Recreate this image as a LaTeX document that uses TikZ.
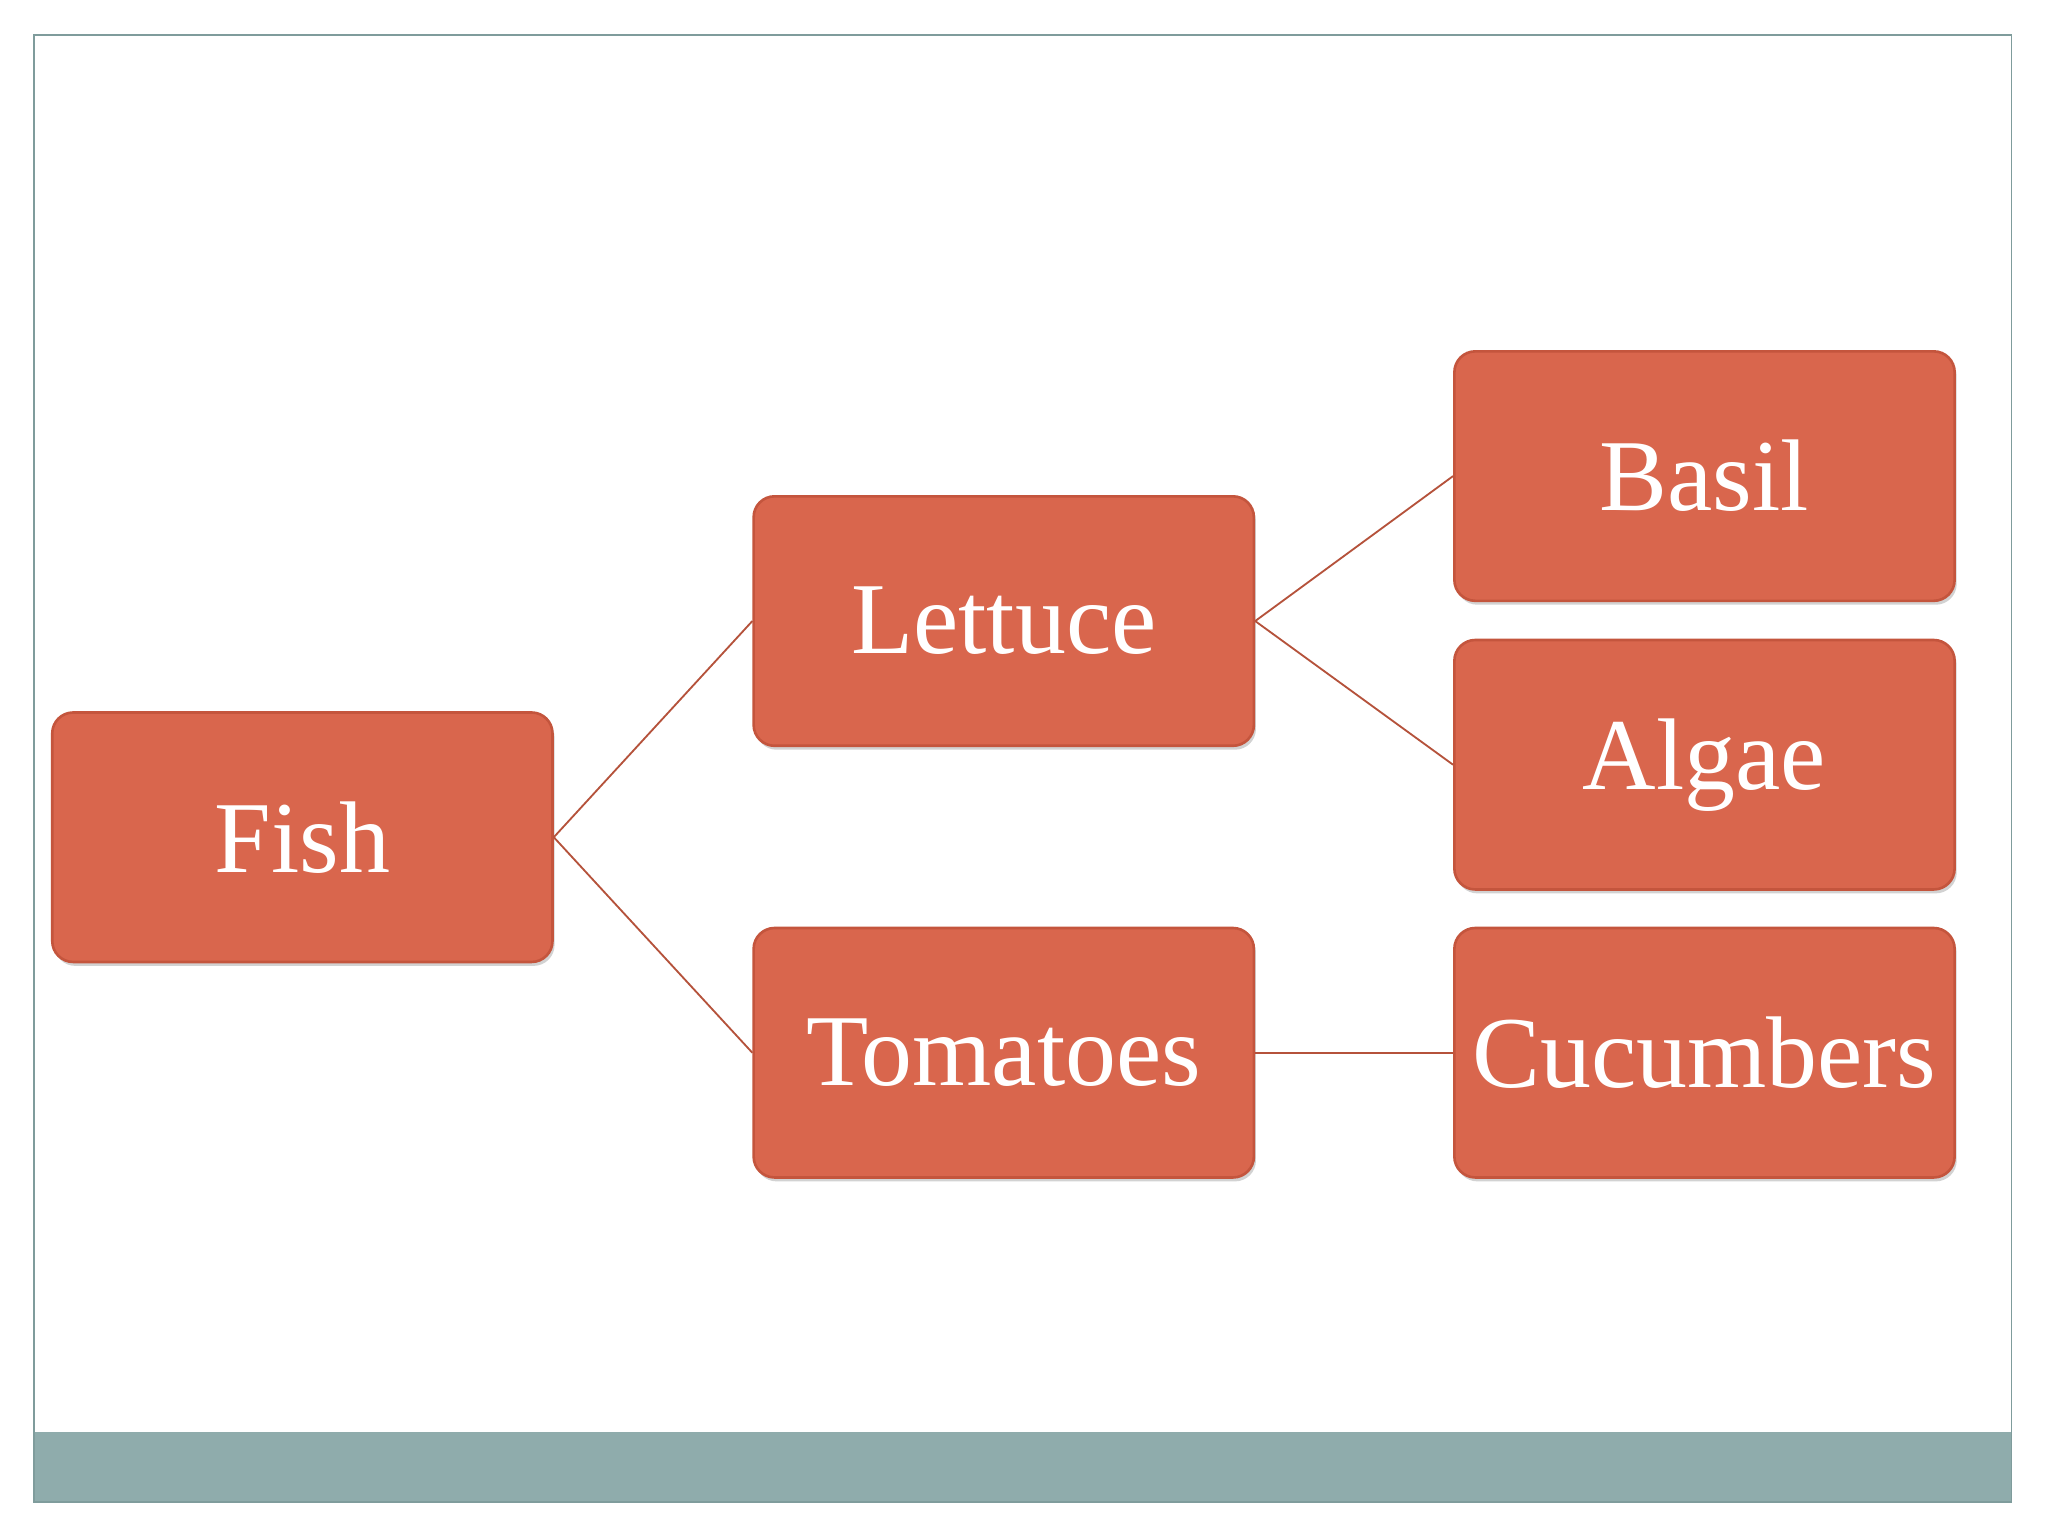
\documentclass[tikz,border=0pt]{standalone}
\usepackage{fontspec}
\setmainfont{Liberation Serif}
\usetikzlibrary{shadows}
\definecolor{boxfill}{HTML}{D9664D}
\definecolor{boxline}{HTML}{C4553D}
\definecolor{linkc}{HTML}{B5523B}
\definecolor{barc}{HTML}{8FACAC}
\definecolor{framec}{HTML}{7F9C9C}
\begin{document}
\begin{tikzpicture}[x=0.5pt,y=-0.5pt,
  box/.style={draw=boxline,line width=1pt,fill=boxfill,rounded corners=8pt,
    minimum width=191.5pt,minimum height=95.5pt,text=white,font=\fontsize{39}{44}\selectfont,
    drop shadow={shadow xshift=0.8pt,shadow yshift=-1.5pt,opacity=0.35}},
  link/.style={draw=linkc,line width=0.7pt}]
\useasboundingbox (0,0) rectangle (1568,1176);
\fill[white] (0,0) rectangle (1568,1176);
\fill[barc] (26,1096) rectangle (1540,1150);
\draw[framec,line width=0.6pt] (26,27) rectangle (1540,1150);
\node[box] (fish) at (231.5,641) {Fish};
\node[box] (lettuce) at (768.5,475.5) {Lettuce};
\node[box] (tomatoes) at (768.5,806) {Tomatoes};
\node[box] (basil) at (1305,364.5) {Basil};
\node[box] (algae) at (1305,585.5) {Algae};
\node[box] (cucumbers) at (1305,806) {Cucumbers};
\draw[link] (fish.east) -- (lettuce.west);
\draw[link] (fish.east) -- (tomatoes.west);
\draw[link] (lettuce.east) -- (basil.west);
\draw[link] (lettuce.east) -- (algae.west);
\draw[link] (tomatoes.east) -- (cucumbers.west);
\end{tikzpicture}
\end{document}
